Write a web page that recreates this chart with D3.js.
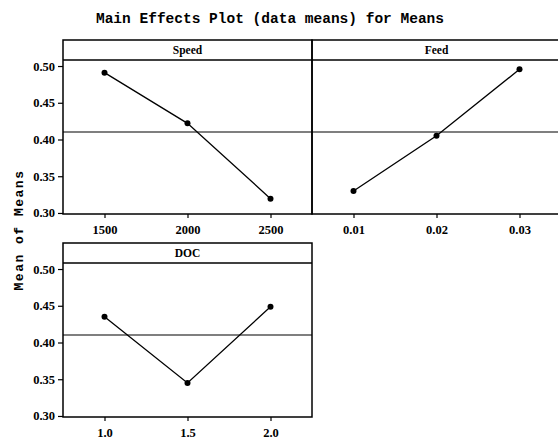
<!DOCTYPE html>
<html>
<head>
<meta charset="utf-8">
<script src="https://cdn.jsdelivr.net/npm/d3@7"></script>
<style>
  body { margin: 0; background: #fff; }
  .tick text { font-family: "Liberation Serif", serif; font-size: 12.5px; font-weight: bold; fill: #000; }
  .tick line { stroke: #000; stroke-width: 1.2; }
</style>
</head>
<body>
<div id="chart"></div>
<script>
// levels and means per factor
const speedLevels = ['1500', '2000', '2500']
const speedMeans = [0.491, 0.422, 0.3195]
const feedLevels = ['0.01', '0.02', '0.03']
const feedMeans = [0.330, 0.405, 0.4955]
const docLevels = ['1.0', '1.5', '2.0']
const docMeans = [0.435, 0.345, 0.4487]
const yTicks = [0.30, 0.35, 0.40, 0.45, 0.50]
const yDomain = [0.2986, 0.5082]

const W = 558, H = 441
const panelW = 249, panelH = 174, stripH = 20

const panels = [
  {name: 'Speed', levels: speedLevels, means: speedMeans, x: 63, y: 40, leftAxis: true},
  {name: 'Feed', levels: feedLevels, means: feedMeans, x: 312, y: 40, leftAxis: false},
  {name: 'DOC', levels: docLevels, means: docMeans, x: 63, y: 243, leftAxis: true}
]

const grandMean = d3.mean([].concat(speedMeans, feedMeans, docMeans))

const svg = d3.select('#chart').append('svg')
  .attr('width', W)
  .attr('height', H)

svg.append('text')
  .attr('x', 270)
  .attr('y', 23)
  .attr('text-anchor', 'middle')
  .style('font-family', '"Liberation Mono", monospace')
  .style('font-weight', 'bold')
  .style('font-size', '14.5px')
  .text('Main Effects Plot (data means) for Means')

svg.append('text')
  .attr('transform', 'translate(23, 230) rotate(-90)')
  .attr('text-anchor', 'middle')
  .style('font-family', '"Liberation Mono", monospace')
  .style('font-weight', 'bold')
  .style('font-size', '13px')
  .style('letter-spacing', '1.5px')
  .text('Mean of Means')

panels.forEach(p => {
  const g = svg.append('g')
    .attr('transform', `translate(${p.x},${p.y})`)

  const x = d3.scalePoint()
    .domain(p.levels)
    .range([0, panelW])
    .padding(0.5)
  const y = d3.scaleLinear()
    .domain(yDomain)
    .range([panelH, stripH])

  // mean reference line
  g.append('line')
    .attr('x1', 0).attr('x2', panelW)
    .attr('y1', y(grandMean)).attr('y2', y(grandMean))
    .attr('stroke', '#000')
    .attr('stroke-width', 1.2)

  // strip header
  g.append('line')
    .attr('x1', 0).attr('x2', panelW)
    .attr('y1', stripH).attr('y2', stripH)
    .attr('stroke', '#000')
    .attr('stroke-width', 1.5)
  g.append('text')
    .attr('x', panelW / 2)
    .attr('y', 14)
    .attr('text-anchor', 'middle')
    .style('font-family', '"Liberation Serif", serif')
    .style('font-weight', 'bold')
    .style('font-size', '11.5px')
    .text(p.name)

  // x axis
  const xa = g.append('g')
    .attr('transform', `translate(0,${panelH})`)
    .call(d3.axisBottom(x).tickSize(4).tickPadding(7))
  xa.select('.domain').remove()

  if(p.leftAxis) {
    const ya = g.append('g')
      .call(d3.axisLeft(y).tickValues(yTicks).tickFormat(d3.format('.2f')).tickSize(5).tickPadding(3))
    ya.select('.domain').remove()
  }

  // data line and points
  const pts = p.levels.map((l, i) => ({level: l, value: p.means[i]}))
  const line = d3.line()
    .x(d => x(d.level))
    .y(d => y(d.value))
  g.append('path')
    .datum(pts)
    .attr('d', line)
    .attr('fill', 'none')
    .attr('stroke', '#000')
    .attr('stroke-width', 1.3)
  g.selectAll('circle')
    .data(pts)
    .enter().append('circle')
    .attr('cx', d => x(d.level))
    .attr('cy', d => y(d.value))
    .attr('r', 3)
    .attr('fill', '#000')

  // panel border
  g.append('rect')
    .attr('width', panelW)
    .attr('height', panelH)
    .attr('fill', 'none')
    .attr('stroke', '#000')
    .attr('stroke-width', 1.5)
})
</script>
</body>
</html>
